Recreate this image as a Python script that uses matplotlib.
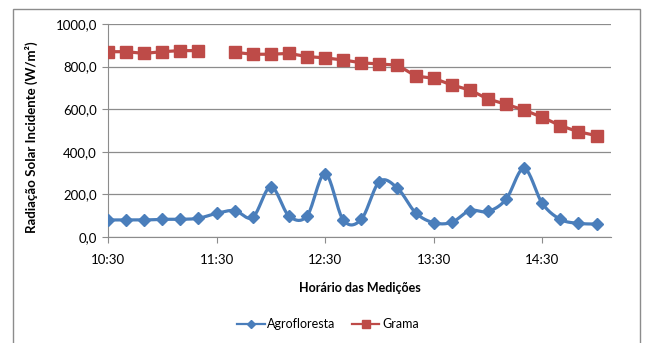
import numpy as np
import matplotlib.pyplot as plt
from matplotlib.patches import Rectangle

# ── data ───────────────────────────────────────────────────────────
horarios = ['10:30', '10:40', '10:50', '11:00', '11:10', '11:20', '11:30',
            '11:40', '11:50', '12:00', '12:10', '12:20', '12:30', '12:40',
            '12:50', '13:00', '13:10', '13:20', '13:30', '13:40', '13:50',
            '14:00', '14:10', '14:20', '14:30', '14:40', '14:50', '15:00']
agrofloresta = [80, 80, 80, 83, 83, 88, 111, 124, 92, 236, 99, 99, 298, 80,
                83, 260, 229, 114, 67, 69, 124, 120, 177, 322, 158, 83, 64, 61]
grama = [870, 870, 862, 870, 875, 875, np.nan, 867, 858, 858, 862, 847, 841,
         831, 818, 812, 807, 756, 745, 714, 690, 648, 623, 596, 562, 523, 494, 476]
tick_labels = ['10:30', '11:30', '12:30', '13:30', '14:30']

AZUL = '#4A7EBB'
VERMELHO = '#BE4B48'


def to_min(h):
    hh, mm = h.split(':')
    return int(hh) * 60 + int(mm)


def catmull_rom(x, y, n=20):
    # smoothed line like Excel's "smooth line" option
    x = np.asarray(x, float)
    y = np.asarray(y, float)
    px = np.concatenate([[x[0]], x, [x[-1]]])
    py = np.concatenate([[y[0]], y, [y[-1]]])
    xs, ys = [], []
    t = np.linspace(0, 1, n)
    for i in range(1, len(px) - 2):
        p0, p1, p2, p3 = (np.array([px[j], py[j]]) for j in range(i - 1, i + 3))
        c1 = p1 + (p2 - p0) / 6
        c2 = p2 - (p3 - p1) / 6
        b = ((1 - t) ** 3)[:, None] * p1 + (3 * (1 - t) ** 2 * t)[:, None] * c1 \
            + (3 * (1 - t) * t ** 2)[:, None] * c2 + (t ** 3)[:, None] * p2
        xs.extend(b[:, 0])
        ys.extend(b[:, 1])
    return np.array(xs), np.array(ys)


x = np.array([to_min(h) for h in horarios])

plt.rcParams['font.family'] = ['Lato', 'DejaVu Sans']

fig = plt.figure(figsize=(6.45, 3.43), dpi=100)
W, H = 645, 343
ax = fig.add_axes([108 / W, (H - 237) / H, (611 - 108) / W, (237 - 24) / H])

# outer chart border
fig.patches.append(Rectangle((13 / W, -0.05), (640 - 13) / W, (H - 9) / H + 0.05,
                             transform=fig.transFigure, fill=False,
                             edgecolor='#8c8c8c', linewidth=1.0))

# series
sx, sy = catmull_rom(x, agrofloresta)
ax.plot(sx, sy, color=AZUL, linewidth=2.3, solid_capstyle='round', zorder=3)
ax.plot(x, agrofloresta, linestyle='none', marker='D', markersize=6,
        color=AZUL, zorder=4)
ax.plot(x, grama, color=VERMELHO, linewidth=2.3, marker='s', markersize=8,
        zorder=3)

# proxies for legend (thinner, smaller markers as in the original)
ax.plot([], [], color=AZUL, linewidth=1.6, marker='D', markersize=4,
        label='Agrofloresta')
ax.plot([], [], color=VERMELHO, linewidth=1.6, marker='s', markersize=6,
        label='Grama')

ax.set_xlim(to_min('10:30'), to_min('10:30') + 278)
ax.set_ylim(0, 1000)
ax.set_xticks([to_min(t) for t in tick_labels])
ax.set_xticklabels(tick_labels, fontsize=9.5)
ax.set_yticks(np.arange(0, 1001, 200))
ax.set_yticklabels([f'{v:.1f}'.replace('.', ',') for v in range(0, 1001, 200)],
                   fontsize=9.5)
ax.grid(axis='y', color='#8c8c8c', linewidth=0.9)
ax.set_axisbelow(True)
for s in ['top', 'right']:
    ax.spines[s].set_visible(False)
for s in ['left', 'bottom']:
    ax.spines[s].set_color('#8c8c8c')
ax.tick_params(axis='both', color='#8c8c8c', length=4, pad=8)
ax.tick_params(axis='y', pad=4)

ax.set_xlabel('Horário das Medições', fontsize=9, fontweight='bold', labelpad=12)
ax.set_ylabel('Radiação Solar Incidente (W/m²)', fontsize=9.5, fontweight='bold')
ax.yaxis.set_label_coords(-0.139, 0.47)

fig.legend(loc='center', bbox_to_anchor=(328 / W, 1 - 324 / H), ncol=2,
           frameon=False, fontsize=9, handlelength=2.2, columnspacing=1.3,
           handletextpad=0.2)

fig.savefig('out.png', dpi=100)
